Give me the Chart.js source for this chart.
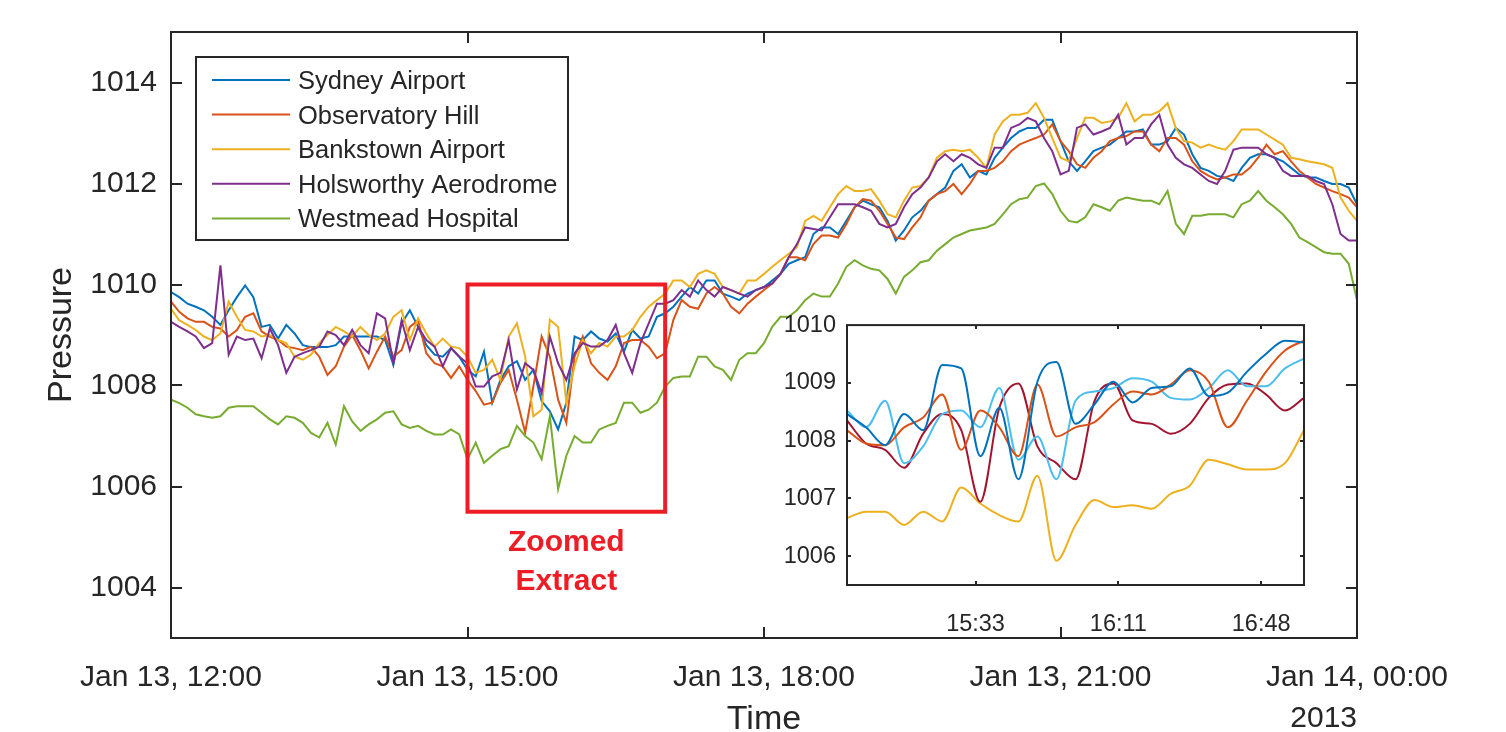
<!DOCTYPE html>
<html>
<head>
<meta charset="utf-8">
<title>Sydney surface pressure, 13 January 2013</title>
<script src="https://cdn.jsdelivr.net/npm/chart.js@4.4.1/dist/chart.umd.min.js"></script>
<style>
  html, body { margin: 0; padding: 0; background: #ffffff; overflow: hidden; }
  #wrap { position: relative; width: 1506px; height: 732px; }
  #main { position: absolute; left: 0; top: 0; }
  #inset { position: absolute; left: 770px; top: 300px; }
</style>
</head>
<body>
<div id="wrap">
  <canvas id="main" width="1506" height="732"></canvas>
  <canvas id="inset" width="560" height="340"></canvas>
</div>
<script>
// ---- station records: pressure (hPa) every 5 minutes from Jan 13 12:00 to Jan 14 00:00 ----
const STEP_MIN = 5;

const stations = ['Sydney Airport', 'Observatory Hill', 'Bankstown Airport', 'Holsworthy Aerodrome', 'Westmead Hospital'];
const stationColors = ['#0072BD', '#D95319', '#EDB120', '#7E2F8E', '#77AC30'];

const sydneyAirport = [
  1009.85,1009.75,1009.62,1009.56,1009.49,1009.36,1009.20,1009.49,1009.75,1009.98,1009.75,1009.16,1009.20,1008.93,1009.20,1009.03,1008.80,1008.76,1008.76,1008.76,1008.80,1008.97,1008.97,1008.97,1008.97,1008.97,1008.90,1008.41,1009.23,1009.49,1009.16,1008.80,1008.61,1008.57,1008.74,1008.57,
  1008.31,1008.18,1008.67,1007.66,1008.11,1008.38,1008.48,1008.11,1008.31,1007.69,1007.49,1007.13,1007.66,1008.97,1008.90,1009.07,1008.93,1008.87,1009.03,1008.67,1009.10,1008.93,1008.97,1009.36,
  1009.43,1009.56,1009.76,1009.95,1009.82,1010.08,1010.08,1009.82,1009.76,1009.69,1009.82,1009.89,1009.95,1010.08,1010.21,1010.41,1010.48,1010.54,1011.00,1011.13,1011.13,1011.00,1011.26,1011.53,1011.66,1011.59,1011.53,1011.26,1010.87,1011.07,1011.33,1011.46,1011.66,1011.79,1011.92,1012.25,
  1012.38,1012.12,1012.25,1012.18,1012.51,1012.71,1012.90,1013.03,1013.10,1013.10,1013.26,1013.26,1012.84,1012.44,1012.25,1012.44,1012.64,1012.71,1012.77,1012.90,1013.03,1013.03,1013.07,1012.77,1012.77,1012.84,1013.10,1012.97,1012.58,1012.31,1012.25,1012.15,1012.12,1012.05,1012.31,1012.51,1012.58,1012.58,1012.51,1012.44,1012.31,1012.18,1012.12,1012.12,1012.05,1011.99,1011.99,1011.92,1011.59
];
const observatoryHill = [
  1009.66,1009.46,1009.33,1009.26,1009.26,1009.16,1009.13,1008.97,1009.10,1009.36,1009.43,1009.07,1008.97,1008.90,1008.77,1008.74,1008.70,1008.77,1008.57,1008.21,1008.38,1008.77,1009.00,1008.70,1008.34,1008.67,1008.97,1008.57,1008.70,1009.16,1009.29,1008.64,1008.44,1008.38,1008.15,1008.38,
  1008.11,1007.89,1007.62,1007.66,1008.05,1008.31,1007.72,1007.07,1007.98,1008.97,1008.57,1007.72,1007.26,1008.57,1008.97,1008.44,1008.25,1008.11,1008.38,1008.84,1008.90,1008.90,1008.77,1008.54,
  1008.64,1009.30,1009.69,1009.56,1009.52,1009.82,1009.95,1009.82,1009.56,1009.43,1009.62,1009.76,1009.89,1010.02,1010.21,1010.54,1010.54,1010.48,1010.80,1010.97,1010.97,1010.93,1011.20,1011.53,1011.69,1011.66,1011.46,1011.20,1010.93,1010.90,1011.13,1011.33,1011.66,1011.79,1011.85,1011.99,
  1011.79,1011.99,1012.25,1012.25,1012.31,1012.44,1012.64,1012.77,1012.84,1012.90,1012.97,1013.17,1012.84,1012.64,1012.38,1012.31,1012.51,1012.64,1012.84,1012.90,1012.94,1013.03,1013.03,1012.77,1012.64,1012.90,1012.90,1012.77,1012.44,1012.25,1012.15,1012.08,1012.12,1012.18,1012.18,1012.31,1012.51,1012.77,1012.58,1012.64,1012.44,1012.25,1012.12,1011.99,1011.92,1011.85,1011.79,1011.72,1011.53
];
const bankstownAirport = [
  1009.52,1009.29,1009.20,1009.10,1008.97,1008.90,1009.03,1009.66,1009.36,1009.10,1009.07,1008.97,1009.00,1008.90,1008.84,1008.57,1008.51,1008.61,1008.84,1009.00,1009.16,1009.07,1008.97,1009.16,1009.00,1008.90,1009.03,1009.36,1009.49,1008.90,1009.33,1009.03,1008.77,1008.93,1008.77,1008.74,
  1008.57,1008.25,1008.31,1008.51,1008.11,1008.97,1009.23,1008.57,1007.39,1007.52,1009.30,1009.16,1007.66,1008.38,1008.90,1008.64,1008.84,1008.77,1008.97,1008.97,1009.10,1009.36,1009.56,1009.69,
  1009.82,1010.08,1010.08,1009.95,1010.21,1010.28,1010.21,1009.95,1009.89,1009.82,1010.08,1010.08,1010.21,1010.35,1010.48,1010.61,1010.74,1011.26,1011.36,1011.26,1011.53,1011.79,1011.95,1011.85,1011.85,1011.89,1011.66,1011.39,1011.33,1011.66,1011.92,1011.95,1012.12,1012.51,1012.64,1012.67,
  1012.64,1012.67,1012.51,1012.31,1012.97,1013.23,1013.36,1013.36,1013.40,1013.59,1013.30,1012.90,1012.51,1012.44,1012.90,1013.30,1013.30,1013.20,1013.23,1013.30,1013.59,1013.23,1013.36,1013.36,1013.43,1013.59,1013.10,1012.84,1012.81,1012.71,1012.77,1012.71,1012.67,1012.84,1013.07,1013.07,1013.07,1012.97,1012.87,1012.77,1012.51,1012.48,1012.44,1012.41,1012.38,1012.31,1011.72,1011.46,1011.26
];
const holsworthyAerodrome = [
  1009.26,1009.16,1009.07,1008.97,1008.74,1008.84,1010.38,1008.61,1008.97,1008.90,1008.93,1008.54,1009.13,1008.80,1008.25,1008.57,1008.64,1008.70,1008.77,1009.07,1009.00,1008.80,1009.10,1008.80,1008.64,1009.43,1009.33,1008.44,1009.29,1008.70,1009.16,1008.90,1008.77,1008.38,1008.74,1008.57,
  1008.44,1007.98,1007.98,1008.18,1008.25,1008.90,1007.92,1008.44,1008.31,1007.85,1008.97,1008.44,1008.11,1008.64,1008.84,1008.77,1008.77,1008.90,1009.20,1008.64,1008.25,1008.84,1009.23,1009.62,
  1009.62,1009.69,1009.89,1009.76,1010.08,1009.89,1009.76,1009.95,1009.89,1009.82,1009.76,1009.89,1009.95,1010.02,1010.21,1010.54,1010.80,1011.13,1011.10,1011.07,1011.33,1011.59,1011.59,1011.59,1011.53,1011.46,1011.20,1011.13,1011.20,1011.53,1011.79,1011.92,1012.12,1012.44,1012.58,1012.44,
  1012.58,1012.51,1012.38,1012.31,1012.71,1012.71,1013.10,1013.17,1013.30,1013.23,1012.90,1012.64,1012.18,1012.25,1013.10,1013.17,1012.97,1013.03,1013.10,1013.36,1012.77,1012.90,1012.90,1013.17,1013.36,1012.77,1012.51,1012.38,1012.31,1012.18,1012.05,1011.99,1012.25,1012.67,1012.71,1012.71,1012.71,1012.58,1012.51,1012.25,1012.15,1012.15,1012.15,1012.05,1011.99,1011.59,1011.00,1010.87,1010.87
];
const westmeadHospital = [
  1007.72,1007.65,1007.56,1007.43,1007.39,1007.36,1007.39,1007.56,1007.59,1007.59,1007.59,1007.46,1007.33,1007.23,1007.39,1007.36,1007.26,1007.06,1006.97,1007.26,1006.83,1007.59,1007.29,1007.10,1007.23,1007.33,1007.46,1007.49,1007.23,1007.16,1007.20,1007.10,1007.03,1007.03,1007.13,1007.03,
  1006.54,1006.87,1006.47,1006.61,1006.74,1006.80,1007.20,1007.00,1006.87,1006.54,1007.39,1005.95,1006.61,1007.00,1006.87,1006.87,1007.13,1007.20,1007.26,1007.66,1007.66,1007.46,1007.52,1007.66,
  1007.98,1008.15,1008.18,1008.18,1008.57,1008.57,1008.38,1008.31,1008.11,1008.51,1008.64,1008.64,1008.84,1009.16,1009.36,1009.36,1009.49,1009.69,1009.82,1009.76,1009.76,1010.02,1010.35,1010.48,1010.38,1010.31,1010.28,1010.11,1009.82,1010.15,1010.28,1010.44,1010.48,1010.67,1010.80,1010.93,
  1011.00,1011.07,1011.10,1011.13,1011.20,1011.39,1011.59,1011.69,1011.72,1011.95,1012.00,1011.79,1011.46,1011.26,1011.23,1011.33,1011.59,1011.53,1011.46,1011.66,1011.72,1011.69,1011.66,1011.66,1011.59,1011.85,1011.20,1011.00,1011.36,1011.36,1011.39,1011.39,1011.39,1011.33,1011.59,1011.66,1011.85,1011.66,1011.53,1011.39,1011.20,1010.93,1010.84,1010.74,1010.64,1010.61,1010.61,1010.41,1009.69
];
const stationSeries = [sydneyAirport, observatoryHill, bankstownAirport, holsworthyAerodrome, westmeadHospital];

// main axes: minutes after Jan 13 12:00
const xTickMinutes = [0, 180, 360, 540, 720];
const xTickLabels = ['Jan 13, 12:00', 'Jan 13, 15:00', 'Jan 13, 18:00', 'Jan 13, 21:00', 'Jan 14, 00:00'];
const yTickValues = [1004, 1006, 1008, 1010, 1012, 1014];
const yearLabel = '2013';

// window that is enlarged in the inset (minutes after 12:00, hPa)
const zoomFrom = 180, zoomTo = 300, zoomLow = 1005.5, zoomHigh = 1010;

// ---- inset: 15:00 to 17:00, every 5 minutes ----
const insetStations = ['Bankstown Airport', 'Holsworthy Aerodrome', 'Sydney Airport', 'Observatory Hill', 'Westmead Hospital'];
const insetColors = ['#0072BD', '#D95319', '#4DBEEE', '#A2142F', '#EDB120'];
const insetBankstown = [1008.46,1008.23,1007.92,1008.46,1008.18,1009.31,1009.25,1007.73,1008.57,1007.33,1009.02,1009.36,1008.29,1008.63,1009.02,1008.66,1008.91,1008.94,1009.25,1008.77,1008.83,1009.19,1009.50,1009.73,1009.70];
const insetHolsworthy = [1008.18,1007.95,1007.92,1008.23,1008.40,1008.80,1007.84,1008.52,1008.23,1007.73,1008.97,1008.07,1008.23,1008.32,1008.63,1008.85,1008.80,1008.97,1009.22,1009.02,1008.23,1008.69,1009.19,1009.56,1009.73];
const insetSydney = [1008.52,1008.23,1008.69,1007.61,1007.90,1008.46,1008.52,1008.23,1008.91,1007.67,1008.07,1007.33,1008.69,1008.85,1008.91,1009.08,1009.02,1008.74,1008.71,1008.91,1009.22,1008.94,1008.94,1009.25,1009.42];
const insetObservatory = [1008.35,1007.95,1007.84,1007.53,1008.12,1008.46,1008.18,1006.94,1008.57,1008.99,1007.90,1007.61,1007.33,1008.69,1008.99,1008.35,1008.29,1008.12,1008.29,1008.74,1008.97,1008.99,1008.80,1008.52,1008.74];
const insetWestmead = [1006.66,1006.77,1006.77,1006.54,1006.77,1006.60,1007.19,1006.91,1006.71,1006.60,1007.39,1005.92,1006.54,1006.97,1006.85,1006.88,1006.82,1007.08,1007.22,1007.67,1007.59,1007.50,1007.50,1007.61,1008.18];
const insetSeries = [insetBankstown, insetHolsworthy, insetSydney, insetObservatory, insetWestmead];
const insetTickMinutes = [33.75, 71.25, 108.75];
const insetTickLabels = ['15:33', '16:11', '16:48'];
const insetYTicks = [1006, 1007, 1008, 1009, 1010];

// ---- drawing ----
const FONT = '"Liberation Sans", Arial, Helvetica, sans-serif';
const INK = '#262626';
const RED = '#EE1C25';

function toPoints(values) {
  return values.map((v, i) => ({ x: i * STEP_MIN, y: v }));
}

function drawBoxAndTicks(chart, tickLen, lineWidth) {
  const { ctx, chartArea: a, scales: { x, y } } = chart;
  ctx.save();
  ctx.strokeStyle = INK;
  ctx.lineWidth = lineWidth;
  ctx.beginPath();
  x.ticks.forEach(t => {
    const px = Math.round(x.getPixelForValue(t.value));
    if (px <= a.left + 1 || px >= a.right - 1) return;
    ctx.moveTo(px, a.bottom); ctx.lineTo(px, a.bottom - tickLen);
    ctx.moveTo(px, a.top); ctx.lineTo(px, a.top + tickLen);
  });
  y.ticks.forEach(t => {
    const py = Math.round(y.getPixelForValue(t.value));
    if (py <= a.top + 1 || py >= a.bottom - 1) return;
    ctx.moveTo(a.left, py); ctx.lineTo(a.left + tickLen, py);
    ctx.moveTo(a.right, py); ctx.lineTo(a.right - tickLen, py);
  });
  ctx.stroke();
  ctx.strokeRect(a.left, a.top, a.right - a.left, a.bottom - a.top);
  ctx.restore();
}

const mainDecorations = {
  id: 'mainDecorations',
  afterDatasetsDraw(chart) {
    const { ctx, chartArea: a, scales: { x, y } } = chart;
    drawBoxAndTicks(chart, 11, 2);

    // outline of the enlarged window
    const rx0 = x.getPixelForValue(zoomFrom), rx1 = x.getPixelForValue(zoomTo);
    const ry0 = y.getPixelForValue(zoomHigh), ry1 = y.getPixelForValue(zoomLow);
    ctx.save();
    ctx.strokeStyle = RED;
    ctx.lineWidth = 4;
    ctx.strokeRect(rx0, ry0, rx1 - rx0, ry1 - ry0);
    ctx.fillStyle = RED;
    ctx.font = 'bold 30px ' + FONT;
    ctx.textAlign = 'center';
    ctx.textBaseline = 'middle';
    const cx = (rx0 + rx1) / 2;
    ctx.fillText('Zoomed', cx, ry1 + 31);
    ctx.fillText('Extract', cx, ry1 + 70);

    // year under the last date label
    ctx.fillStyle = INK;
    ctx.font = '30px ' + FONT;
    ctx.textAlign = 'right';
    ctx.fillText(yearLabel, a.right, 719);

    // legend
    const bx = a.left + 25, by = a.top + 25, bw = 372, bh = 183;
    ctx.fillStyle = '#ffffff';
    ctx.fillRect(bx, by, bw, bh);
    ctx.strokeStyle = INK;
    ctx.lineWidth = 2;
    ctx.strokeRect(bx, by, bw, bh);
    ctx.font = '25.5px ' + FONT;
    ctx.textAlign = 'left';
    chart.data.datasets.forEach((ds, i) => {
      const iy = by + 23 + i * 34.6;
      ctx.strokeStyle = ds.borderColor;
      ctx.lineWidth = 2;
      ctx.beginPath();
      ctx.moveTo(bx + 16, iy); ctx.lineTo(bx + 94, iy);
      ctx.stroke();
      ctx.fillStyle = INK;
      ctx.fillText(ds.label, bx + 102, iy + 2);
    });
    ctx.restore();
  }
};

new Chart(document.getElementById('main'), {
  type: 'line',
  data: {
    datasets: stationSeries.map((vals, i) => ({
      label: stations[i],
      data: toPoints(vals),
      borderColor: stationColors[i],
      backgroundColor: stationColors[i],
      borderWidth: 2,
      pointRadius: 0,
      tension: 0,
      fill: false,
      order: stations.length - i
    }))
  },
  options: {
    responsive: false,
    animation: false,
    events: [],
    layout: { padding: { top: 32, right: 149, left: 0, bottom: 0 } },
    plugins: { legend: { display: false }, tooltip: { enabled: false } },
    scales: {
      x: {
        type: 'linear', min: xTickMinutes[0], max: xTickMinutes[xTickMinutes.length - 1],
        afterBuildTicks: s => { s.ticks = xTickMinutes.map(v => ({ value: v })); },
        afterFit: s => { s.height = 94; },
        grid: { display: false, drawTicks: false },
        border: { display: false },
        ticks: {
          autoSkip: false, maxRotation: 0, minRotation: 0, padding: 22, color: INK,
          font: { family: FONT, size: 30 },
          callback: (v, i) => xTickLabels[i]
        },
        title: { display: true, text: 'Time', color: INK, font: { family: FONT, size: 34, lineHeight: 0.75 }, padding: { top: 0, bottom: 0 } }
      },
      y: {
        type: 'linear', min: 1003, max: 1015,
        afterBuildTicks: s => { s.ticks = yTickValues.map(v => ({ value: v })); },
        afterFit: s => { s.width = 171; },
        grid: { display: false, drawTicks: false },
        border: { display: false },
        ticks: { padding: 14, color: INK, font: { family: FONT, size: 30 }, callback: v => String(v) },
        title: { display: true, text: 'Pressure', color: INK, font: { family: FONT, size: 34, lineHeight: 1 }, padding: { top: 45, bottom: 0 } }
      }
    }
  },
  plugins: [mainDecorations]
});

const insetDecorations = {
  id: 'insetDecorations',
  beforeDatasetsDraw(chart) {
    const { ctx, chartArea: a } = chart;
    ctx.save();
    ctx.fillStyle = '#ffffff';
    ctx.fillRect(a.left, a.top, a.right - a.left, a.bottom - a.top);
    ctx.restore();
  },
  afterDatasetsDraw(chart) {
    drawBoxAndTicks(chart, 4, 2);
  }
};

new Chart(document.getElementById('inset'), {
  type: 'line',
  data: {
    datasets: insetSeries.map((vals, i) => ({
      label: insetStations[i],
      data: toPoints(vals),
      borderColor: insetColors[i],
      backgroundColor: insetColors[i],
      borderWidth: 2,
      pointRadius: 0,
      cubicInterpolationMode: 'monotone',
      fill: false
    }))
  },
  options: {
    responsive: false,
    animation: false,
    events: [],
    layout: { padding: { top: 19, right: 26, left: 0, bottom: 0 } },
    plugins: { legend: { display: false }, tooltip: { enabled: false } },
    scales: {
      x: {
        type: 'linear', min: 0, max: 120,
        afterBuildTicks: s => { s.ticks = insetTickMinutes.map(v => ({ value: v })); },
        afterFit: s => { s.height = 55; },
        grid: { display: false, drawTicks: false },
        border: { display: false },
        ticks: { autoSkip: false, maxRotation: 0, padding: 25, color: INK, font: { family: FONT, size: 23.5 }, callback: (v, i) => insetTickLabels[i] }
      },
      y: {
        type: 'linear', min: zoomLow, max: zoomHigh,
        afterBuildTicks: s => { s.ticks = insetYTicks.map(v => ({ value: v })); },
        afterFit: s => { s.width = 77; },
        grid: { display: false, drawTicks: false },
        border: { display: false },
        ticks: { padding: 11, color: INK, font: { family: FONT, size: 23.5 }, callback: v => String(v) }
      }
    }
  },
  plugins: [insetDecorations]
});
</script>
</body>
</html>
